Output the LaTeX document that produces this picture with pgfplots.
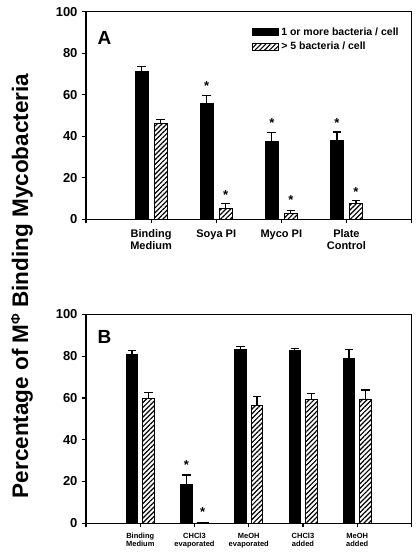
\documentclass[border=0pt]{standalone}
\usepackage{pgfplots}
\pgfplotsset{compat=1.18}
\usepackage{fontspec}
\setmainfont{Liberation Sans}
\usetikzlibrary{patterns.meta}

\pgfplotsset{
  panel/.style={
    scale only axis, width=325.5pt, clip=false,
    ymin=0, ymax=100, ytick={0,20,40,60,80,100},
    axis line style={line width=1.3pt},
    tick style={line width=1.2pt, black},
    tick align=outside, major tick length=4pt,
    xtick pos=bottom, ytick pos=left,
    /pgf/number format/assume math mode=true,
    yticklabel style={font=\bfseries\fontsize{13}{13}\selectfont, xshift=-1pt},
    xticklabel style={align=center},
  },
  errs/.style={
    error bars/y dir=plus, error bars/y explicit,
    error bars/error bar style={line width=1.3pt, black},
    error bars/error mark options={rotate=90, mark size=4.3pt, line width=1.3pt, black}},
  blackbar/.style={ybar, bar shift=0pt, fill=black, draw=black, line width=0.8pt, forget plot, errs},
  hatchbar/.style={ybar, bar shift=0pt, fill=white, draw=black, line width=0.8pt, forget plot,
    postaction={pattern={Lines[angle=45, distance=3.4pt, line width=1.2pt]}}, errs},
  stars/.style={draw=none, mark=none, forget plot,
    nodes near coords={*},
    every node near coord/.append style={font=\bfseries\fontsize{13}{13}\selectfont, anchor=center, inner sep=0pt, yshift=-3pt}},
}

\begin{document}
\begin{tikzpicture}
\path[use as bounding box] (0,0) rectangle (420pt,-560pt);

% ---------------- Panel A ----------------
\begin{axis}[panel,
  at={(86pt,-219.3pt)}, anchor=south west, height=207.6pt,
  xmin=0, xmax=5, xtick={0,1,2,3,4,5},
  xticklabels={,{Binding\\Medium},{Soya PI},{Myco PI},{Plate\\Control},},
  xticklabel style={font=\bfseries\fontsize{11}{11.5}\selectfont, yshift=-3pt},
  legend style={at={(0.51,0.935)}, anchor=north west, draw=none, fill=none,
    inner sep=0pt, row sep=1.5pt, font=\bfseries\fontsize{10.5}{11}\selectfont,
    /tikz/every even column/.append style={column sep=0pt}},
  legend cell align=left,
]
\addlegendimage{legend image code/.code={\draw[fill=black, draw=black, line width=0.6pt] (0pt,-3.5pt) rectangle (26pt,3.5pt);}}
\addlegendentry{1 or more bacteria / cell}
\addlegendimage{legend image code/.code={\draw[fill=white, draw=black, line width=0.6pt, postaction={pattern={Lines[angle=45, distance=3.4pt, line width=1.1pt]}}] (0pt,-3.5pt) rectangle (26pt,3.5pt);}}
\addlegendentry{> 5 bacteria / cell}

\addplot[bar width=12.7pt, blackbar] table[x=x, y=y, y error=e] {
x y e
0.854 71.3 2.2
1.854 56.0 3.8
2.854 37.3 4.6
3.854 37.8 4.2
};
\addplot[bar width=12.7pt, hatchbar] table[x=x, y=y, y error=e] {
x y e
1.146 46.1 2.0
2.146 5.3 2.2
3.146 2.9 1.4
4.146 7.6 1.6
};
\addplot[stars] coordinates {(1.854,65.6) (2.854,48) (3.854,48) (2.146,13.1) (3.146,10.6) (4.146,14.7)};
\node[font=\bfseries\fontsize{19}{19}\selectfont, anchor=center] at (rel axis cs:0.057,0.872) {A};
\end{axis}

% ---------------- Panel B ----------------
\begin{axis}[panel,
  at={(86pt,-523.3pt)}, anchor=south west, height=209pt,
  xmin=0, xmax=6, xtick={0,1,2,3,4,5,6},
  xticklabels={,{Binding\\Medium},{CHCl3\\evaporated},{MeOH\\evaporated},{CHCl3\\added},{MeOH\\added},},
  xticklabel style={font=\bfseries\fontsize{7.5}{8.5}\selectfont, yshift=-2pt},
]
\addplot[bar width=11.5pt, blackbar] table[x=x, y=y, y error=e] {
x y e
0.849 81.0 1.6
1.849 18.8 4.3
2.849 83.0 1.5
3.849 82.6 1.2
4.849 79.0 4.3
};
\addplot[bar width=11.5pt, hatchbar] table[x=x, y=y, y error=e] {
x y e
1.151 59.8 2.9
2.151 0.5 0.0
3.151 56.6 4.0
4.151 59.3 2.9
5.151 59.5 4.3
};
\addplot[stars] coordinates {(1.849,29.1) (2.151,6.6)};
\node[font=\bfseries\fontsize{19}{19}\selectfont, anchor=center] at (rel axis cs:0.057,0.892) {B};
\end{axis}

% y label
\node[rotate=90, font=\bfseries\fontsize{22.5}{22.5}\selectfont, anchor=center] at (22pt,-286pt)
  {Percentage of M\raisebox{8pt}{\fontsize{13}{13}\selectfont Φ} Binding Mycobacteria};
\end{tikzpicture}
\end{document}
